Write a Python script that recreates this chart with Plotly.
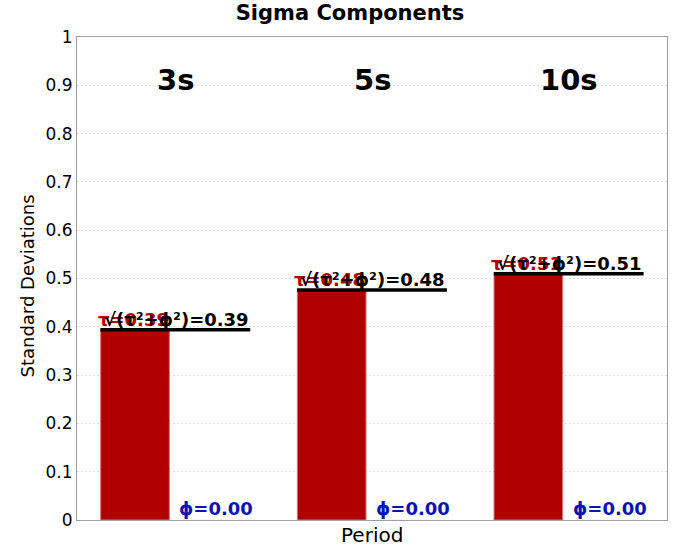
import plotly.graph_objects as go

periods = ["3s", "5s", "10s"]
tau = [0.394, 0.476, 0.510]
phi = [0.0, 0.0, 0.0]
total = [0.394, 0.476, 0.510]
y_ticks = [0, 0.1, 0.2, 0.3, 0.4, 0.5, 0.6, 0.7, 0.8, 0.9, 1]

RED = "#b00000"
BLUE = "#0a14b4"
FONT = "DejaVu Sans"

fig = go.Figure()
fig.add_trace(go.Bar(x=periods, y=tau, marker=dict(color=RED, line=dict(color="#d87070", width=1)),
                     name="tau", showlegend=False, hoverinfo="skip"))
fig.add_trace(go.Bar(x=periods, y=phi, marker=dict(color=BLUE), name="phi", showlegend=False,
                     hoverinfo="skip"))

annotations = []
shapes = []
for i, p in enumerate(periods):
    shapes.append(dict(type="line", xref="x", yref="y", x0=i - 0.381, x1=i + 0.381,
                       y0=total[i], y1=total[i], line=dict(color="black", width=3.5)))
    annotations.append(dict(x=i, y=0.91, xref="x", yref="y", text="<b>%s</b>" % p, showarrow=False,
                            font=dict(family=FONT, size=29, color="black")))
    annotations.append(dict(x=i - 0.405, y=tau[i], xref="x", yref="y", xanchor="left", yanchor="bottom",
                            yshift=-2, text="<b>τ=%.2f</b>" % tau[i], showarrow=False,
                            font=dict(family=FONT, size=18, color=RED)))
    annotations.append(dict(x=i - 0.375, y=total[i], xref="x", yref="y", xanchor="left", yanchor="bottom",
                            yshift=-2, text="<b>√(τ²+ϕ²)=%.2f</b>" % total[i], showarrow=False,
                            font=dict(family=FONT, size=18, color="black")))
    annotations.append(dict(x=i + 0.01, y=0.0, xref="x", yref="y", xanchor="left", yanchor="bottom",
                            yshift=-1, text="<b>ϕ=%.2f</b>" % phi[i], showarrow=False,
                            font=dict(family=FONT, size=18, color=BLUE)))

annotations.append(dict(x=-0.0847, y=0.4834, xref="paper", yref="paper", text="Standard Deviations",
                        textangle=-90, showarrow=False, xanchor="center", yanchor="middle",
                        font=dict(family=FONT, size=18, color="black")))
annotations.append(dict(x=0.5, y=-0.031, xref="paper", yref="paper", text="Period",
                        showarrow=False, xanchor="center", yanchor="middle",
                        font=dict(family=FONT, size=20, color="black")))

fig.update_layout(
    width=700, height=550,
    margin=dict(l=77, r=33, t=37, b=30, autoexpand=False),
    paper_bgcolor="white", plot_bgcolor="white",
    barmode="group", bargap=0.18, bargroupgap=0.149,
    hovermode=False,
    title=dict(text="<b>Sigma Components</b>", x=0.5, xanchor="center", y=1 - 13 / 550, yanchor="middle",
               font=dict(family=FONT, size=21, color="black")),
    font=dict(family=FONT, color="black"),
    xaxis=dict(showticklabels=False, ticks="", showgrid=False, showline=True, linecolor="#a0a0a0",
               mirror=True, linewidth=1, automargin=False),
    yaxis=dict(range=[0, 1], tickvals=y_ticks, ticktext=[("%g" % v) for v in y_ticks],
               tickfont=dict(family=FONT, size=17), ticks="", automargin=False,
               showgrid=True, gridcolor="#e2e2e2", griddash="2px,2px", gridwidth=1,
               showline=True, linecolor="#a0a0a0", mirror=True, linewidth=1, zeroline=False),
    annotations=annotations, shapes=shapes,
)

fig.write_html("out.html", config={"displayModeBar": False},
               post_script="document.body.style.margin='0';")
